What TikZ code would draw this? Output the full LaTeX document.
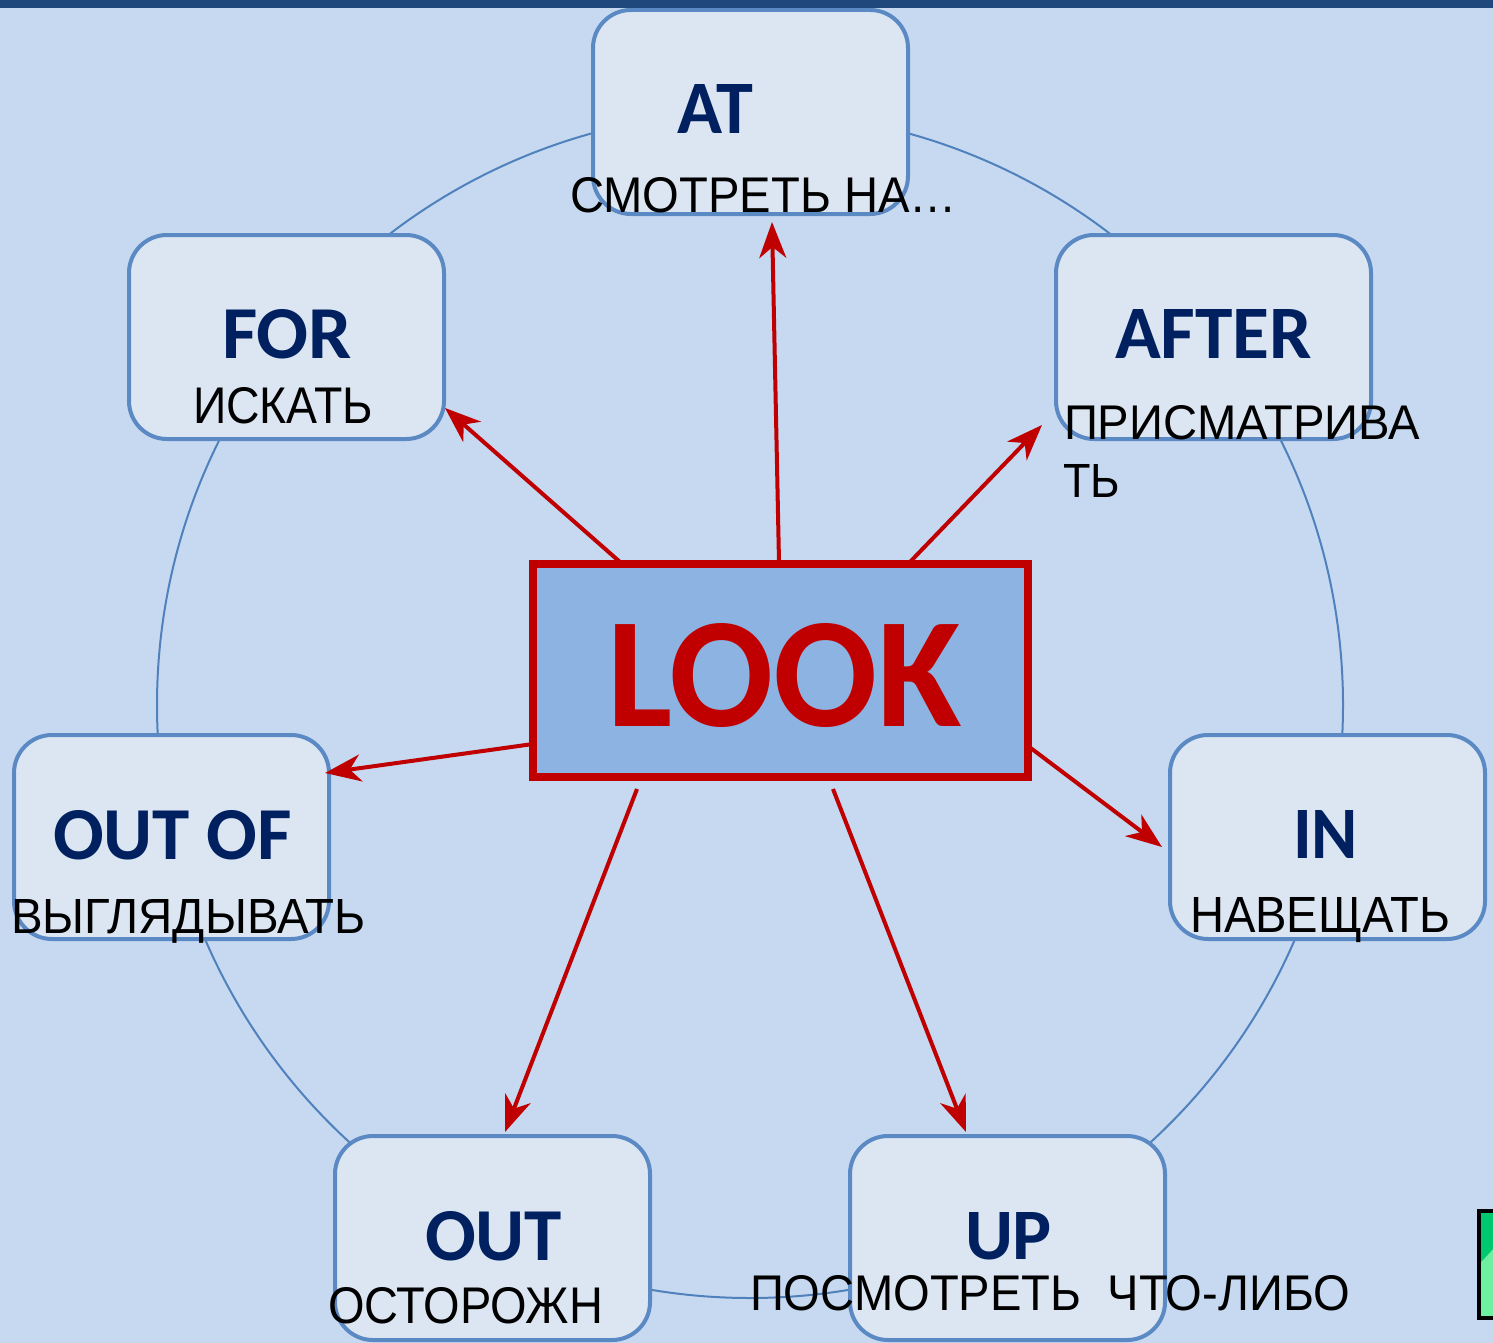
\documentclass[tikz,border=0pt]{standalone}
\usepackage{fontspec}
\setmainfont{Liberation Sans}
\newfontfamily\calfont{Carlito}
\usetikzlibrary{arrows.meta}
\definecolor{bg}{RGB}{198,217,240}
\definecolor{boxfill}{RGB}{220,230,242}
\definecolor{boxline}{RGB}{91,137,196}
\definecolor{circc}{RGB}{79,129,189}
\definecolor{lookfill}{RGB}{141,179,226}
\definecolor{redc}{RGB}{192,0,0}
\definecolor{navy}{RGB}{0,32,96}
\definecolor{band}{RGB}{31,73,125}
\definecolor{gdark}{RGB}{0,200,110}
\definecolor{glight}{RGB}{110,240,160}
\newcommand\lbl[3]{\resizebox{#1pt}{#2pt}{#3}}
\newcommand\bl[3]{\resizebox{#1pt}{#2pt}{\calfont\bfseries\color{navy}#3}}
\begin{document}
\begin{tikzpicture}[x=1pt,y=-1pt,
  pbox/.style={draw=boxline, line width=4pt, fill=boxfill, rounded corners=38pt,
    minimum width=315pt, minimum height=204pt, inner sep=0pt},
  txt/.style={anchor=base west, inner sep=0pt, outer sep=0pt},
  arr/.style={draw=redc, line width=4pt, -{Stealth[length=36pt,width=27pt,inset=11pt]}},
  circ/.style={draw=circc, line width=2pt}]
\useasboundingbox (0,0) rectangle (1493,1343);
\fill[bg] (0,0) rectangle (1493,1343);
\draw[circ] (750,705) circle[radius=593pt];
% boxes
\node[pbox] (at) at (750.5,112) {};
\node[pbox] (for) at (286.5,337) {};
\node[pbox] (after) at (1213.5,337) {};
\node[pbox] (outof) at (171.5,837) {};
\node[pbox] (in) at (1327.5,837) {};
\node[pbox] (out) at (492.5,1238) {};
\node[pbox] (up) at (1007.5,1238) {};
% arrow end points
\coordinate (sfor) at (620,562);
\coordinate (sat) at (779,562);
\coordinate (safter) at (910,562);
\coordinate (soutof) at (533,744);
\coordinate (sin) at (1028,746);
\coordinate (sout) at (637,789);
\coordinate (sup) at (833,789);
\coordinate (tfor) at (445,408);
\coordinate (tat) at (772,222);
\coordinate (tafter) at (1042,425);
\coordinate (toutof) at (325,773);
\coordinate (tin) at (1162,847);
\coordinate (tout) at (505,1132);
\coordinate (tup) at (966,1132);
\draw[arr] (sfor) -- (tfor);
\draw[arr] (sat) -- (tat);
\draw[arr] (safter) -- (tafter);
\draw[arr] (soutof) -- (toutof);
\draw[arr] (sin) -- (tin);
\draw[arr] (sout) -- (tout);
\draw[arr] (sup) -- (tup);
% central box
\node[draw=redc, line width=8pt, fill=lookfill, minimum width=495pt, minimum height=213pt, inner sep=0pt] (look) at (780.5,670.5) {};
\node[txt] (looktxt) at (607,726) {\lbl{355}{103}{\calfont\bfseries\color{redc}LOOK}};
% labels
\node[txt] (attxt) at (677,134) {\bl{76}{49}{AT}};
\node[txt] (atru) at (570,212) {\lbl{387}{35}{СМОТРЕТЬ НА…}};
\node[txt] (fortxt) at (222,358) {\bl{130}{49}{FOR}};
\node[txt] (forru) at (193,423) {\lbl{180}{36}{ИСКАТЬ}};
\node[txt] (aftertxt) at (1115,358) {\bl{197}{49}{AFTER}};
\node[txt] (afterru1) at (1064,439) {\lbl{356}{34}{ПРИСМАТРИВА}};
\node[txt] (afterru2) at (1063,497) {\lbl{57}{33}{ТЬ}};
\node[txt] (outoftxt) at (53,859) {\bl{239}{49}{OUT OF}};
\node[txt] (outofru) at (11,933) {\lbl{354}{34}{ВЫГЛЯДЫВАТЬ}};
\node[txt] (intxt) at (1293,858) {\bl{65}{48}{IN}};
\node[txt] (inru) at (1190,932) {\lbl{260}{35}{НАВЕЩАТЬ}};
\node[txt] (outtxt) at (425,1260) {\bl{137}{49}{OUT}};
\node[txt] (outru) at (328,1323) {\lbl{275}{36}{ОСТОРОЖН}};
\node[txt] (uptxt) at (965,1259) {\bl{87}{47}{UP}};
\node[txt] (upru) at (750,1310) {\lbl{600}{35}{ПОСМОТРЕТЬ\ \ ЧТО-ЛИБО}};
% top band
\fill[band] (0,0) rectangle (1493,8);
% green icon at bottom right
\fill[black] (1477,1209) rectangle (1494,1320);
\fill[glight] (1481,1213) rectangle (1494,1316);
\fill[gdark] (1481,1213) -- (1494,1213) -- (1494,1248) -- (1481,1262) -- cycle;
\end{tikzpicture}
\end{document}
